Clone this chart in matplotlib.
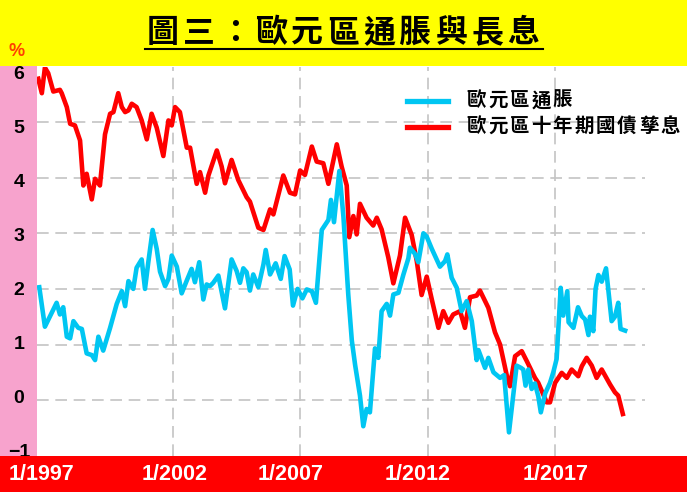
import matplotlib
matplotlib.use("Agg")
import matplotlib.pyplot as plt
import matplotlib.transforms as mtransforms
from matplotlib.patches import Rectangle
from matplotlib.lines import Line2D

plt.rcParams["font.family"] = ["Noto Sans CJK TC", "DejaVu Sans"]

# 歐元區十年期國債孳息 (%), x in decimal years
bond_years = [1996.71, 1996.85, 1996.97, 1997.10, 1997.30, 1997.56, 1997.63, 1997.83, 1997.96,
              1998.15, 1998.35, 1998.48, 1998.61, 1998.81, 1998.94, 1999.13, 1999.33, 1999.53,
              1999.66, 1999.85, 1999.99, 2000.12, 2000.25, 2000.38, 2000.57, 2000.77, 2000.97,
              2001.16, 2001.36, 2001.62, 2001.82, 2001.95, 2002.08, 2002.27, 2002.54, 2002.67,
              2002.93, 2003.06, 2003.26, 2003.39, 2003.72, 2003.91, 2004.04, 2004.30, 2004.56,
              2004.89, 2005.02, 2005.35, 2005.55, 2005.81, 2005.94, 2006.33, 2006.59, 2006.79,
              2006.99, 2007.18, 2007.45, 2007.64, 2007.90, 2008.10, 2008.43, 2008.62, 2008.82,
              2008.92, 2009.08, 2009.21, 2009.34, 2009.60, 2009.86, 2010.00, 2010.19, 2010.45,
              2010.65, 2010.91, 2011.11, 2011.37, 2011.57, 2011.76, 2011.96, 2012.16, 2012.42,
              2012.61, 2012.81, 2013.00, 2013.27, 2013.46, 2013.66, 2013.92, 2014.05, 2014.38,
              2014.64, 2014.84, 2015.10, 2015.23, 2015.43, 2015.69, 2015.89, 2016.21, 2016.34,
              2016.67, 2016.80, 2017.00, 2017.26, 2017.46, 2017.65, 2017.91, 2018.05, 2018.24,
              2018.44, 2018.63, 2018.83, 2019.16, 2019.35, 2019.48, 2019.66]
bond_yield = [5.78, 5.52, 5.98, 5.88, 5.55, 5.58, 5.52, 5.27, 4.97,
              4.94, 4.67, 3.86, 4.07, 3.61, 3.98, 3.86, 4.78, 5.15,
              5.18, 5.52, 5.27, 5.18, 5.21, 5.33, 5.27, 5.03, 4.69,
              5.15, 4.90, 4.39, 5.03, 4.94, 5.27, 5.18, 4.54, 4.54,
              3.89, 4.10, 3.73, 4.04, 4.49, 4.20, 3.90, 4.32, 3.96,
              3.65, 3.57, 3.10, 3.06, 3.43, 3.34, 4.04, 3.73, 3.70,
              4.13, 4.05, 4.56, 4.29, 4.26, 3.89, 4.60, 4.20, 3.86,
              2.93, 3.31, 2.98, 3.53, 3.28, 3.14, 3.28, 3.07, 2.57,
              2.10, 2.60, 3.28, 2.97, 2.50, 1.89, 2.22, 1.81, 1.30,
              1.60, 1.39, 1.54, 1.60, 1.30, 1.85, 1.88, 1.97, 1.66,
              1.22, 1.00, 0.45, 0.25, 0.79, 0.88, 0.70, 0.40, 0.31,
              -0.04, -0.04, 0.31, 0.49, 0.40, 0.55, 0.43, 0.61, 0.76,
              0.62, 0.40, 0.55, 0.28, 0.14, 0.08, -0.25]

# 歐元區通脹 (%)
cpi_years = [1996.75, 1996.97, 1997.30, 1997.43, 1997.56, 1997.69, 1997.83, 1997.96, 1998.09,
             1998.28, 1998.42, 1998.61, 1998.81, 1998.94, 1999.07, 1999.26, 1999.53, 1999.79,
             1999.99, 2000.12, 2000.25, 2000.44, 2000.57, 2000.77, 2000.90, 2001.03, 2001.20,
             2001.36, 2001.49, 2001.69, 2001.82, 2001.95, 2002.15, 2002.34, 2002.54, 2002.73,
             2002.86, 2003.03, 2003.19, 2003.32, 2003.45, 2003.58, 2003.78, 2004.04, 2004.30,
             2004.50, 2004.63, 2004.76, 2004.89, 2005.02, 2005.15, 2005.35, 2005.55, 2005.64,
             2005.81, 2006.03, 2006.23, 2006.38, 2006.58, 2006.71, 2006.89, 2007.08, 2007.25,
             2007.45, 2007.61, 2007.84, 2008.10, 2008.20, 2008.32, 2008.53, 2008.69, 2008.88,
             2009.02, 2009.15, 2009.34, 2009.47, 2009.60, 2009.73, 2009.93, 2010.06, 2010.19,
             2010.39, 2010.52, 2010.65, 2010.85, 2011.04, 2011.24, 2011.30, 2011.50, 2011.63,
             2011.83, 2011.96, 2012.16, 2012.48, 2012.68, 2012.77, 2012.94, 2013.14, 2013.33,
             2013.53, 2013.73, 2013.92, 2013.99, 2014.25, 2014.38, 2014.58, 2014.84, 2015.00,
             2015.19, 2015.49, 2015.66, 2015.75, 2015.84, 2015.95, 2016.08, 2016.21, 2016.34,
             2016.44, 2016.61, 2016.80, 2016.93, 2017.06, 2017.22, 2017.32, 2017.48, 2017.53,
             2017.72, 2017.90, 2018.05, 2018.18, 2018.31, 2018.37, 2018.50, 2018.59, 2018.70,
             2018.83, 2019.00, 2019.22, 2019.35, 2019.48, 2019.57, 2019.75]
cpi_rate = [2.03, 1.32, 1.63, 1.75, 1.54, 1.67, 1.14, 1.11, 1.42,
            1.30, 1.28, 0.84, 0.81, 0.72, 1.14, 0.89, 1.30, 1.73,
            1.96, 1.69, 2.14, 2.00, 2.38, 2.53, 2.00, 2.48, 3.06,
            2.72, 2.31, 2.05, 2.18, 2.60, 2.40, 1.92, 2.15, 2.36,
            2.12, 2.48, 1.81, 2.08, 2.05, 2.11, 2.24, 1.65, 2.53,
            2.32, 2.11, 2.37, 2.30, 1.97, 2.26, 2.03, 2.44, 2.70,
            2.26, 2.46, 2.18, 2.59, 2.35, 1.70, 2.00, 1.83, 1.99,
            1.96, 1.75, 3.06, 3.24, 3.60, 3.20, 4.12, 3.30, 1.90,
            1.07, 0.63, 0.08, -0.47, -0.16, -0.22, 0.93, 0.76, 1.60,
            1.73, 1.52, 1.90, 1.93, 2.25, 2.55, 2.74, 2.63, 2.48,
            3.00, 2.94, 2.72, 2.40, 2.50, 2.62, 2.20, 2.02, 1.60,
            1.78, 1.42, 0.72, 0.90, 0.58, 0.76, 0.50, 0.40, 0.45,
            -0.58, 0.62, 0.58, 0.55, 0.26, 0.55, 0.20, 0.30, 0.07,
            -0.22, 0.12, 0.31, 0.50, 0.74, 2.02, 1.52, 1.96, 1.40,
            1.30, 1.67, 1.51, 1.45, 1.17, 1.50, 1.24, 2.00, 2.25,
            2.13, 2.37, 1.42, 1.50, 1.75, 1.28, 1.25]

y_ticks = [-1, 0, 1, 2, 3, 4, 5, 6]
grid_years = [2002, 2007, 2012, 2017]
x_labels = ["1/1997", "1/2002", "1/2007", "1/2012", "1/2017"]
x_label_years = [1996.82, 2002.08, 2006.63, 2011.62, 2017.04]

title = "圖三：歐元區通脹與長息"
cpi_name = "歐元區通脹"
bond_name = "歐元區十年期國債孳息"

BLUE = "#00C6F2"
RED = "#FF0000"

W, H = 687, 492
fig = plt.figure(figsize=(W / 100, H / 100), dpi=100)
fig.patch.set_facecolor("white")


def spaced_text(x_px, y_px, s, pitch, **kw):
    # the source uses wide letter spacing, so place one glyph at a time
    for i, ch in enumerate(s):
        fig.text((x_px + i * pitch) / W, 1 - y_px / H, ch, ha="center", va="center", **kw)


# coloured frame bands
fig.add_artist(Rectangle((0, 1 - 66 / H), 1, 66 / H, transform=fig.transFigure,
                         facecolor="#FFFF00", edgecolor="none", zorder=2))
fig.add_artist(Rectangle((0, 36.3 / H), 37 / W, (455.7 - 66) / H, transform=fig.transFigure,
                         facecolor="#F7A3CD", edgecolor="none", zorder=2))
fig.add_artist(Rectangle((0, 0), 1, 36.3 / H, transform=fig.transFigure,
                         facecolor="#FF0000", edgecolor="none", zorder=4))

ax = fig.add_axes([37 / W, 36.3 / H, (645 - 37) / W, (455.7 - 66.5) / H])
ax.set_facecolor("white")
ax.set_xlim(1996.66, 2020.53)
ax.set_ylim(-1, 6)
for s in ax.spines.values():
    s.set_visible(False)
ax.set_yticks(range(0, 6))
ax.set_xticks(grid_years)
ax.tick_params(length=0, labelleft=False, labelbottom=False)
ax.grid(True, color="#C4C4C4", linestyle=(0, (7, 4)), linewidth=1.2)
ax.set_axisbelow(True)

ax.plot(bond_years, bond_yield, color=RED, lw=3.3, solid_joinstyle="round", zorder=3)
ax.plot(cpi_years, cpi_rate, color=BLUE, lw=3.3, solid_joinstyle="round", zorder=4)

# y labels in the pink band
ytr = mtransforms.blended_transform_factory(fig.transFigure, ax.transData)
for v in y_ticks:
    lab = "\u22121" if v < 0 else str(v)
    fig.text(19 / W, 0.97 * v + 0.03, lab, transform=ytr, ha="center", va="center",
             fontsize=14, fontweight="bold", family="Liberation Sans", color="black", zorder=3)
fig.text(17 / W, 1 - 52 / H, "%", ha="center", va="center", fontsize=13, fontweight="bold",
         family="Liberation Sans", color="#FF4000", zorder=3)

# x labels in the red band
xtr = mtransforms.blended_transform_factory(ax.transData, fig.transFigure)
for yr, lab in zip(x_label_years, x_labels):
    fig.text(yr, 1 - 474 / H, lab, transform=xtr, ha="center", va="center", fontsize=15.5,
             fontweight="bold", family="Liberation Sans", color="white", zorder=5)

# title with underline
spaced_text(162.5, 33, title, 36.1, fontsize=23, fontweight="bold", color="black", zorder=3)
fig.add_artist(Line2D([145 / W, 543 / W], [1 - 48.5 / H, 1 - 48.5 / H], color="black",
                      lw=1.5, transform=fig.transFigure, zorder=3))

# legend
for yy, col, name in [(100.7, BLUE, cpi_name), (126.7, RED, bond_name)]:
    fig.add_artist(Line2D([407 / W, 448 / W], [1 - yy / H, 1 - yy / H], color=col, lw=3.8,
                          transform=fig.transFigure, zorder=5))
    spaced_text(476.5, yy, name, 21.5, fontsize=14, fontweight="bold", color="black", zorder=5)

fig.savefig("out.png", dpi=100)
